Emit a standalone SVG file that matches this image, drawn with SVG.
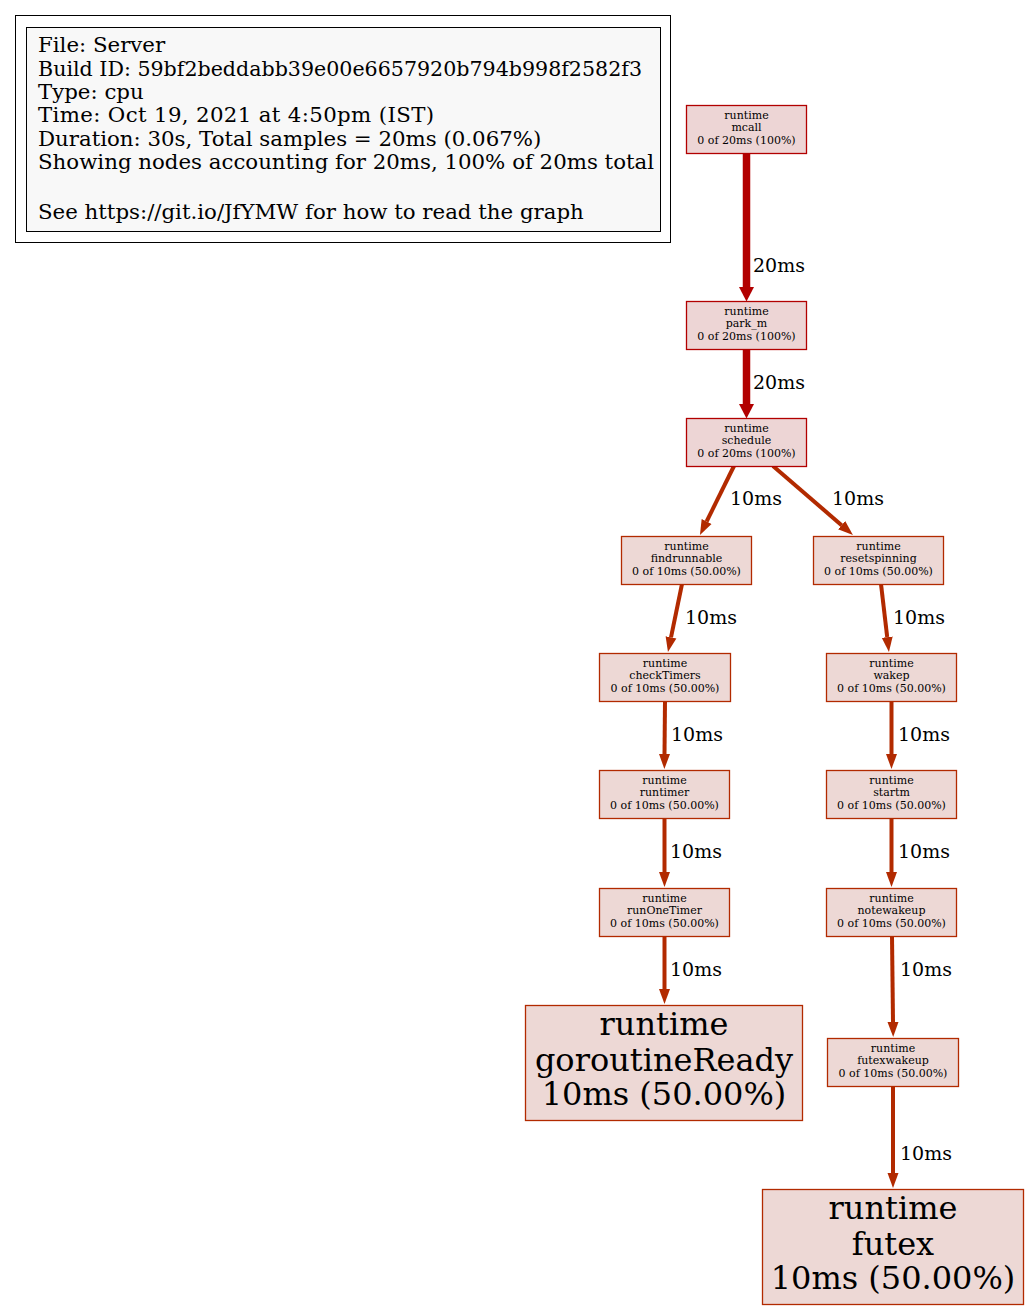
<svg xmlns="http://www.w3.org/2000/svg" width="1029" height="1309" viewBox="0 0 1029 1309">
<style>
text { font-family: "DejaVu Serif", "Liberation Serif", serif; fill: #000; }
.legend text { font-size: 21.3px; }
.n20 rect { fill: #edd5d5; stroke: #b20000; stroke-width: 1.3; }
.n10 rect { fill: #edd8d5; stroke: #b22a00; stroke-width: 1.3; }
.s text { font-size: 11px; text-anchor: middle; }
.b text { font-size: 32px; text-anchor: middle; }
.e20 { stroke: #b20000; stroke-width: 7.5; fill: none; marker-end: url(#a20); }
.e10 { stroke: #b22a00; stroke-width: 4; fill: none; marker-end: url(#a10); }
.lbl { font-size: 19px; }
</style>
<defs>
<marker id="a20" markerUnits="userSpaceOnUse" viewBox="0 -8 15 16" markerWidth="15" markerHeight="16" refX="0" refY="0" orient="auto"><path d="M0,-7.5 L14.5,0 L0,7.5 z" fill="#b20000"/></marker>
<marker id="a10" markerUnits="userSpaceOnUse" viewBox="0 -6 15 12" markerWidth="15" markerHeight="12" refX="0" refY="0" orient="auto"><path d="M0,-5.5 L15,0 L0,5.5 z" fill="#b22a00"/></marker>
</defs>
<rect width="1029" height="1309" fill="#fff"/>
<g id="legend" class="legend">
<rect x="15.5" y="15.5" width="655" height="227" fill="none" stroke="#000" stroke-width="1"/>
<rect x="26.5" y="27.5" width="634" height="204" fill="#f8f8f8" stroke="#000" stroke-width="1"/>
<text x="38" y="52">File: Server</text>
<text x="38" y="75.5" textLength="604" lengthAdjust="spacingAndGlyphs">Build ID: 59bf2beddabb39e00e6657920b794b998f2582f3</text>
<text x="38" y="99">Type: cpu</text>
<text x="38" y="122" textLength="396" lengthAdjust="spacing">Time: Oct 19, 2021 at 4:50pm (IST)</text>
<text x="38" y="145.5">Duration: 30s, Total samples = 20ms (0.067%)</text>
<text x="38" y="169">Showing nodes accounting for 20ms, 100% of 20ms total</text>
<text x="38" y="218.5">See https://git.io/JfYMW for how to read the graph</text>
</g>
<g id="edges">
<path class="e20" d="M746.5,153 L746.5,287"/>
<path class="e20" d="M746.5,349 L746.5,404"/>
<path class="e10" d="M734,466 L706.6,521.5"/>
<path class="e10" d="M773,466 L841.6,525.2"/>
<path class="e10" d="M682,584 L671,637.3"/>
<path class="e10" d="M881,584 L887.2,637.1"/>
<path class="e10" d="M665,701 L664.5,754"/>
<path class="e10" d="M891.5,701 L891.5,754"/>
<path class="e10" d="M664.5,818 L664.5,872"/>
<path class="e10" d="M891.5,818 L891.5,872"/>
<path class="e10" d="M664.5,936 L664.5,989"/>
<path class="e10" d="M892,936 L893,1022"/>
<path class="e10" d="M893,1087 L893,1173"/>
<text class="lbl" x="753" y="272">20ms</text>
<text class="lbl" x="753" y="389">20ms</text>
<text class="lbl" x="730" y="505">10ms</text>
<text class="lbl" x="832" y="505">10ms</text>
<text class="lbl" x="685" y="624">10ms</text>
<text class="lbl" x="893" y="624">10ms</text>
<text class="lbl" x="671" y="741">10ms</text>
<text class="lbl" x="898" y="741">10ms</text>
<text class="lbl" x="670" y="858">10ms</text>
<text class="lbl" x="898" y="858">10ms</text>
<text class="lbl" x="670" y="976">10ms</text>
<text class="lbl" x="900" y="976">10ms</text>
<text class="lbl" x="900" y="1160">10ms</text>
</g>
<g id="mcall" class="n20 s"><rect x="686.5" y="105.5" width="120" height="48"/><text x="746.5" y="119">runtime</text><text x="746.5" y="131">mcall</text><text x="746.5" y="143.5">0 of 20ms (100%)</text></g>
<g id="park_m" class="n20 s"><rect x="686.5" y="301.5" width="120" height="48"/><text x="746.5" y="315">runtime</text><text x="746.5" y="327">park_m</text><text x="746.5" y="339.5">0 of 20ms (100%)</text></g>
<g id="schedule" class="n20 s"><rect x="686.5" y="418.5" width="120" height="48"/><text x="746.5" y="432">runtime</text><text x="746.5" y="444">schedule</text><text x="746.5" y="456.5">0 of 20ms (100%)</text></g>
<g id="findrunnable" class="n10 s"><rect x="621.5" y="536.5" width="130" height="48"/><text x="686.5" y="550">runtime</text><text x="686.5" y="562">findrunnable</text><text x="686.5" y="574.5">0 of 10ms (50.00%)</text></g>
<g id="resetspinning" class="n10 s"><rect x="813.5" y="536.5" width="130" height="48"/><text x="878.5" y="550">runtime</text><text x="878.5" y="562">resetspinning</text><text x="878.5" y="574.5">0 of 10ms (50.00%)</text></g>
<g id="checkTimers" class="n10 s"><rect x="599.5" y="653.5" width="131" height="48"/><text x="665" y="667">runtime</text><text x="665" y="679">checkTimers</text><text x="665" y="691.5">0 of 10ms (50.00%)</text></g>
<g id="wakep" class="n10 s"><rect x="826.5" y="653.5" width="130" height="48"/><text x="891.5" y="667">runtime</text><text x="891.5" y="679">wakep</text><text x="891.5" y="691.5">0 of 10ms (50.00%)</text></g>
<g id="runtimer" class="n10 s"><rect x="599.5" y="770.5" width="130" height="48"/><text x="664.5" y="784">runtime</text><text x="664.5" y="796">runtimer</text><text x="664.5" y="808.5">0 of 10ms (50.00%)</text></g>
<g id="startm" class="n10 s"><rect x="826.5" y="770.5" width="130" height="48"/><text x="891.5" y="784">runtime</text><text x="891.5" y="796">startm</text><text x="891.5" y="808.5">0 of 10ms (50.00%)</text></g>
<g id="runOneTimer" class="n10 s"><rect x="599.5" y="888.5" width="130" height="48"/><text x="664.5" y="902">runtime</text><text x="664.5" y="914">runOneTimer</text><text x="664.5" y="926.5">0 of 10ms (50.00%)</text></g>
<g id="notewakeup" class="n10 s"><rect x="826.5" y="888.5" width="130" height="48"/><text x="891.5" y="902">runtime</text><text x="891.5" y="914">notewakeup</text><text x="891.5" y="926.5">0 of 10ms (50.00%)</text></g>
<g id="goroutineReady" class="n10 b"><rect x="525.5" y="1005.5" width="277" height="115"/><text x="664" y="1035">runtime</text><text x="664" y="1070.5">goroutineReady</text><text x="664" y="1105">10ms (50.00%)</text></g>
<g id="futexwakeup" class="n10 s"><rect x="827.5" y="1038.5" width="131" height="48"/><text x="893" y="1052">runtime</text><text x="893" y="1064">futexwakeup</text><text x="893" y="1076.5">0 of 10ms (50.00%)</text></g>
<g id="futex" class="n10 b"><rect x="762.5" y="1189.5" width="261" height="115"/><text x="893" y="1219">runtime</text><text x="893" y="1254.5">futex</text><text x="893" y="1289">10ms (50.00%)</text></g>
</svg>
